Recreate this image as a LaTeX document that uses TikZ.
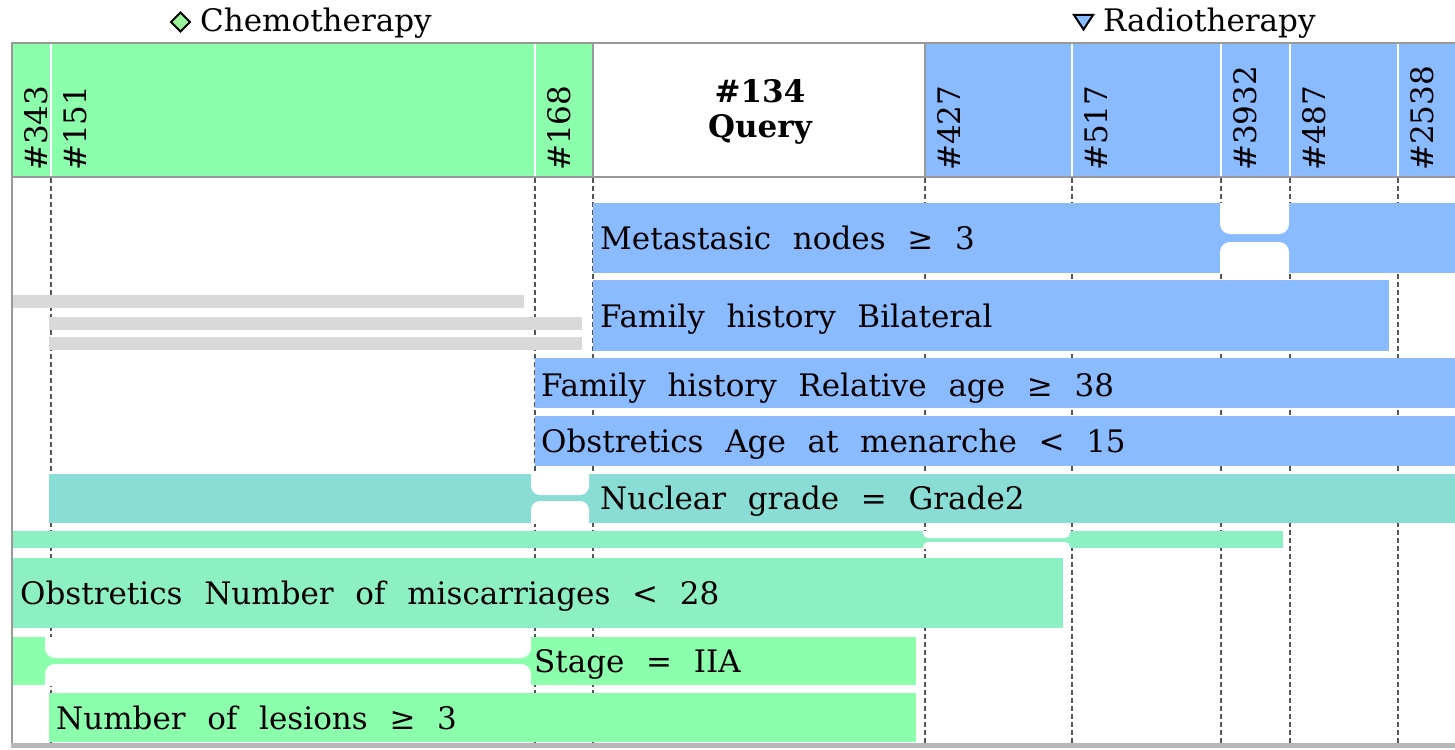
\documentclass[tikz,border=0pt]{standalone}
\usepackage{fontspec}
\setmainfont{DejaVu Serif}
\definecolor{cgreen}{HTML}{8CFFAC}
\definecolor{lgreen}{HTML}{9CF59A}
\definecolor{cblue}{HTML}{8ABAFF}
\definecolor{cteal}{HTML}{8ADDD5}
\definecolor{cmint}{HTML}{8CF0C3}
\definecolor{cgray}{HTML}{D9D9D9}
\definecolor{framec}{HTML}{999999}
\definecolor{dashc}{HTML}{555555}
\newcommand{\rowf}{\fontsize{31}{35}\selectfont\spaceskip=0.7em\relax}
\newcommand{\hdrf}{\fontsize{31}{35}\selectfont}
\tikzset{
  rowlbl/.style={font=\rowf, anchor=base west, inner sep=0pt},
  collbl/.style={font=\hdrf, rotate=90, anchor=base west, inner sep=0pt},
  vdash/.style={draw=dashc, dash pattern=on 4.5pt off 3.5pt, line width=1.2pt},
  sep/.style={draw=white, line width=1.5pt},
  cut/.style={fill=white, rounded corners=#1},
  legendmark/.style={draw=black, line width=2pt, line join=miter},
}
\begin{document}
\begin{tikzpicture}[x=1pt,y=-1pt]
\useasboundingbox (0,0) rectangle (1455,749);
\clip (0,0) rectangle (1455,749);
% header
\fill[cgreen] (12,43) rectangle (593,177);
\fill[cblue] (925,43) rectangle (1460,177);
\foreach \x in {51,535,1072,1221,1290,1398} \draw[sep] (\x,43) -- (\x,177);
\foreach \x in {593,925} \draw[framec, line width=1.2pt] (\x,43) -- (\x,177);
% dashed column lines
\foreach \x in {51,535,593,925,1072,1221,1290,1398} \draw[vdash] (\x,178) -- (\x,745);
% gray bars
\fill[cgray] (12,295) rectangle (524,308);
\fill[cgray] (49,317) rectangle (582,330);
\fill[cgray] (49,337) rectangle (582,350);
% Metastasic
\fill[cblue] (593,203) rectangle (1460,273);
\begin{scope}
  \clip (593,203) rectangle (1460,273);
  \fill[cut=10] (1220,180) rectangle (1289,234);
  \fill[cut=10] (1220,242) rectangle (1289,300);
\end{scope}
\fill[cblue] (593,280) rectangle (1389,351);
\fill[cblue] (535,358) rectangle (1460,408);
\fill[cblue] (535,416) rectangle (1460,466);
% Nuclear grade
\fill[cteal] (49,474) rectangle (1460,523);
\begin{scope}
  \clip (49,474) rectangle (1460,523);
  \fill[cut=9] (531,450) rectangle (589,495);
  \fill[cut=9] (531,501) rectangle (589,550);
\end{scope}
% thin mint bar
\fill[cmint] (12,531) rectangle (1283,548);
\begin{scope}
  \clip (12,531) rectangle (1283,548);
  \fill[cut=5] (923,520) rectangle (1070,538);
  \fill[cut=5] (923,542) rectangle (1070,560);
\end{scope}
\fill[cmint] (12,558) rectangle (1063,628);
% Stage
\fill[cgreen] (12,637) rectangle (916,685);
\begin{scope}
  \clip (12,637) rectangle (916,685);
  \fill[cut=10] (45,620) rectangle (531,658);
  \fill[cut=10] (45,664) rectangle (531,700);
\end{scope}
\fill[cgreen] (49,693) rectangle (916,742);
% row labels
\node[rowlbl] (r1) at (600,249) {Metastasic nodes ≥ 3};
\node[rowlbl] (r2) at (600,327) {Family history Bilateral};
\node[rowlbl] (r3) at (541,396) {Family history Relative age ≥ 38};
\node[rowlbl] (r4) at (541,452) {Obstretics Age at menarche < 15};
\node[rowlbl] (r5) at (600,509) {Nuclear grade = Grade2};
\node[rowlbl] (r6) at (20,604) {Obstretics Number of miscarriages < 28};
\node[rowlbl] (r7) at (534,672) {Stage = IIA};
\node[rowlbl] (r8) at (56,729) {Number of lesions ≥ 3};
% column labels
\node[collbl] (c343) at (47,171) {\#343};
\node[collbl] (c151) at (86,171) {\#151};
\node[collbl] (c168) at (570,171) {\#168};
\node[collbl] (c427) at (960,171) {\#427};
\node[collbl] (c517) at (1107,171) {\#517};
\node[collbl] (c3932) at (1256,171) {\#3932};
\node[collbl] (c487) at (1325,171) {\#487};
\node[collbl] (c2538) at (1433,171) {\#2538};
\node[font=\hdrf\bfseries, inner sep=0pt] (q1) at (760,91) {\#134};
\node[font=\hdrf\bfseries, inner sep=0pt] (q2) at (760,129) {Query};
% frame
\draw[framec, line width=1.5pt] (1460,43) -- (12,43) -- (12,745);
\draw[framec, line width=1.2pt] (12,177) -- (1460,177);
\fill[framec!70] (11,743) rectangle (1460,748);
% legend
\filldraw[legendmark, fill=lgreen] (180.5,12.5) -- (190,22) -- (180.5,31.5) -- (171,22) -- cycle;
\node[font=\hdrf, anchor=base west, inner sep=0pt] (chemo) at (200,32) {Chemotherapy};
\node[font=\hdrf, anchor=base west, inner sep=0pt] (radio) at (1103,32) {Radiotherapy};
\filldraw[legendmark, fill=cblue] (1074,15) -- (1093,15) -- (1083.5,29.5) -- cycle;
\end{tikzpicture}
\end{document}
